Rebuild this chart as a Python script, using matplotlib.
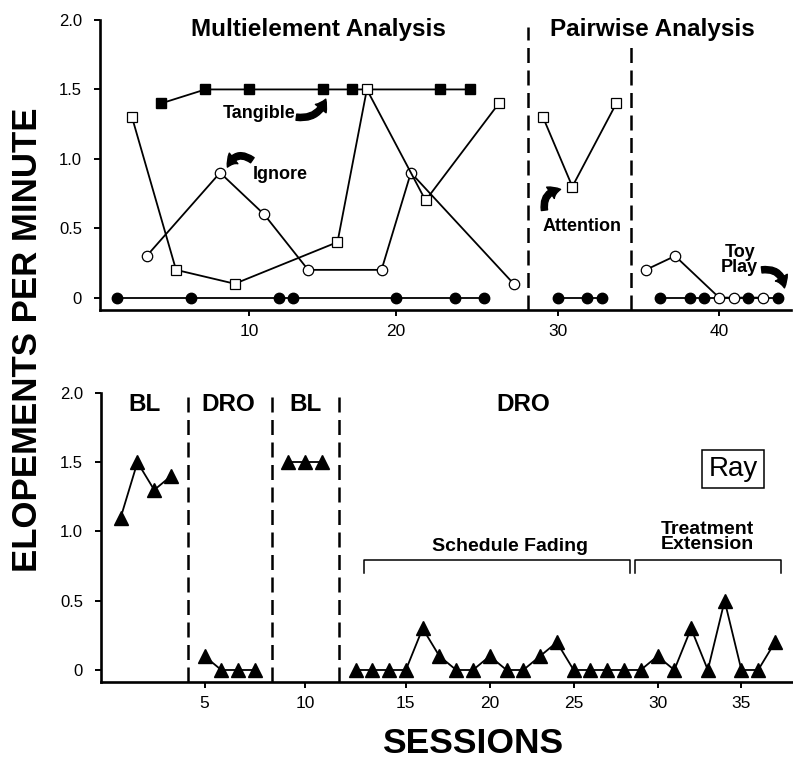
import numpy as np
import matplotlib
matplotlib.use("Agg")
import matplotlib.pyplot as plt

plt.rcParams["font.family"] = ["Liberation Sans", "DejaVu Sans"]

# top panel: functional analysis, one list per phase segment
toy_sess = [[1, 6, 12, 13, 20, 24, 26], [30, 32, 33], [36, 38, 39, 42, 44]]
toy_vals = [[0, 0, 0, 0, 0, 0, 0], [0, 0, 0], [0, 0, 0, 0, 0]]
ignore_sess = [[3, 8, 11, 14, 19, 21, 28], [35, 37, 40, 41, 43]]
ignore_vals = [[0.3, 0.9, 0.6, 0.2, 0.2, 0.9, 0.1], [0.2, 0.3, 0, 0, 0]]
attn_sess = [[2, 5, 9, 16, 18, 22, 27], [29, 31, 34]]
attn_vals = [[1.3, 0.2, 0.1, 0.4, 1.5, 0.7, 1.4], [1.3, 0.8, 1.4]]
tang_sess = [[4, 7, 10, 15, 17, 23, 25]]
tang_vals = [[1.4, 1.5, 1.5, 1.5, 1.5, 1.5, 1.5]]
top_breaks = [28.5, 34.5]
top_ticks = [10, 20, 30, 40]

# bottom panel: treatment evaluation
dro_sess = list(range(1, 38))
dro_vals = [1.1, 1.5, 1.3, 1.4,
            0.1, 0, 0, 0,
            1.5, 1.5, 1.5,
            0, 0, 0, 0, 0.3, 0.1, 0, 0, 0.1, 0, 0, 0.1, 0.2, 0,
            0, 0, 0, 0, 0.1, 0, 0.3, 0, 0.5, 0, 0, 0.2]
bot_breaks = [4.5, 8.5, 11.5]
bot_phases = ["BL", "DRO", "BL", "DRO"]
bot_ticks = [5, 10, 15, 20, 25, 30, 35]
y_ticks = [0, 0.5, 1.0, 1.5, 2.0]
y_labels = ["0", "0.5", "1.0", "1.5", "2.0"]


def gap_scale(breaks, lo=-50.0, hi=100.0):
    # each phase change takes up one session slot on the axis
    xs, ys = [lo], [lo]
    for k, b in enumerate(breaks):
        xs += [b - 0.5, b + 0.5]
        ys += [b - 0.5 + k, b + 0.5 + k + 1]
    xs.append(hi)
    ys.append(hi + len(breaks))
    return (lambda v: np.interp(v, xs, ys)), (lambda v: np.interp(v, ys, xs))


def style_axes(ax, breaks, xlim, ylim, ticks):
    ax.set_xscale("function", functions=gap_scale(breaks))
    ax.set_xlim(*xlim)
    ax.set_ylim(*ylim)
    for s in ("top", "right"):
        ax.spines[s].set_visible(False)
    for s in ("left", "bottom"):
        ax.spines[s].set_linewidth(1.9)
    ax.set_xticks(ticks)
    ax.set_xticklabels([str(t) for t in ticks])
    ax.set_yticks(y_ticks)
    ax.set_yticklabels(y_labels)
    ax.tick_params(axis="y", length=4, width=1.4, pad=9, labelsize=12)
    ax.tick_params(axis="x", length=4, width=1.4, pad=6, labelsize=12.5)


def curved_arrow(ax, tail, head, rad):
    ax.annotate("", xy=head, xytext=tail,
                arrowprops=dict(arrowstyle="simple,head_length=0.55,head_width=0.7,tail_width=0.32",
                                connectionstyle=f"arc3,rad={rad}", fc="k", ec="k",
                                shrinkA=0, shrinkB=0, mutation_scale=14))


fig = plt.figure(figsize=(7.93, 7.59), dpi=100)
ax1 = fig.add_axes([0.1261, 0.5916, 0.872, 0.382])
ax2 = fig.add_axes([0.1274, 0.1014, 0.871, 0.3808])

# --- top panel
line_kw = dict(color="k", lw=1.3, clip_on=False)
for xs, ys in zip(toy_sess, toy_vals):
    ax1.plot(xs, ys, marker="o", ms=7.5, mfc="k", mec="k", zorder=3, **line_kw)
for xs, ys in zip(ignore_sess, ignore_vals):
    ax1.plot(xs, ys, marker="o", ms=7.5, mfc="white", mec="k", mew=0.9, zorder=4, **line_kw)
for xs, ys in zip(attn_sess, attn_vals):
    ax1.plot(xs, ys, marker="s", ms=7, mfc="white", mec="k", mew=0.9, zorder=4, **line_kw)
for xs, ys in zip(tang_sess, tang_vals):
    ax1.plot(xs, ys, marker="s", ms=7.5, mfc="k", mec="k", zorder=3, **line_kw)

dash = (0, (6, 3))
ax1.plot([top_breaks[0]] * 2, [-0.09, 1.95], color="k", lw=1.8, ls=dash, clip_on=False)
ax1.plot([top_breaks[1]] * 2, [-0.09, 1.81], color="k", lw=1.8, ls=dash, clip_on=False)

style_axes(ax1, top_breaks, (-0.18, 44.93), (-0.089, 2.0), top_ticks)

big = dict(fontsize=17.5, fontweight="bold", ha="center", va="center")
small = dict(fontsize=13, fontweight="bold", ha="center", va="center")
ax1.text(14.7, 1.93, "Multielement Analysis", **big)
ax1.text(35.46, 1.93, "Pairwise Analysis", **big)
ax1.text(10.65, 1.33, "Tangible", **small)
ax1.text(12.1, 0.89, "Ignore", **small)
ax1.text(31.66, 0.51, "Attention", **small)
ax1.text(41.4, 0.27, "Toy\nPlay", linespacing=0.9, **small)
curved_arrow(ax1, (13.2, 1.30), (15.2, 1.43), 0.4)
curved_arrow(ax1, (10.2, 0.99), (8.5, 0.94), 0.6)
curved_arrow(ax1, (29.1, 0.63), (30.2, 0.78), -0.5)
curved_arrow(ax1, (42.9, 0.20), (44.45, 0.07), -0.5)

# --- bottom panel
phase_id = np.digitize(dro_sess, bot_breaks)
sess_arr = np.array(dro_sess)
vals_arr = np.array(dro_vals)
for p in range(len(bot_phases)):
    m = phase_id == p
    ax2.plot(sess_arr[m], vals_arr[m], marker="^", ms=9.5, mfc="k", mec="k",
             color="k", lw=1.3, clip_on=False, zorder=3)
for b in bot_breaks:
    ax2.plot([b, b], [-0.087, 1.97], color="k", lw=1.8, ls=dash, clip_on=False)

style_axes(ax2, bot_breaks, (-0.17, 38.0), (-0.087, 2.0), bot_ticks)

label_x = [2.45, 6.4, 10.0, 22.0]
for x, name in zip(label_x, bot_phases):
    ax2.text(x, 1.915, name, **big)

# condition brackets
for x0, x1 in [(12.48, 28.37), (28.67, 37.38)]:
    ax2.plot([x0, x0, x1, x1], [0.70, 0.795, 0.795, 0.70], color="k", lw=1.1, clip_on=False)
mid = dict(fontsize=14, fontweight="bold", ha="center", va="center")
ax2.text(21.2, 0.89, "Schedule Fading", **mid)
ax2.text(33.0, 0.96, "Treatment\nExtension", linespacing=0.88, **mid)
ax2.text(34.5, 1.45, "Ray", fontsize=20, ha="center", va="center",
         bbox=dict(boxstyle="square,pad=0.22", fc="white", ec="k", lw=1.1))

fig.text(0.0353, 0.552, "ELOPEMENTS PER MINUTE", rotation=90, fontsize=25,
         fontweight="bold", ha="center", va="center")
fig.text(0.5965, 0.0198, "SESSIONS", fontsize=25.5, fontweight="bold", ha="center", va="center")

fig.savefig("out.png", dpi=100)
